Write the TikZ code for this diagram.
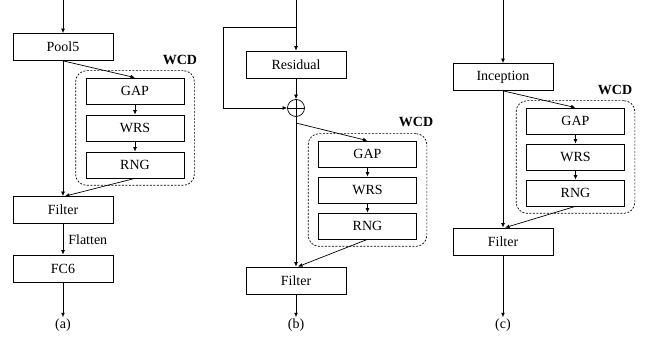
\documentclass[tikz,border=0pt]{standalone}
\usepackage{fontspec}
\setmainfont{Liberation Serif}
\usepackage{tikz}
\usetikzlibrary{arrows.meta, calc, positioning, fit}

\begin{document}
\begin{tikzpicture}[
    x=1pt, y=-1pt,
    >={Latex[length=4.5pt,width=3.8pt]},
    line width=0.7pt,
    every node/.style={font=\fontsize{14}{16}\selectfont},
    block/.style={rectangle, draw, minimum width=100pt, minimum height=27pt, inner sep=0pt},
    unit/.style={rectangle, draw, minimum width=98pt, minimum height=26pt, inner sep=0pt},
    wcdbox/.style={rectangle, draw, dashed, dash pattern=on 2pt off 1.5pt, rounded corners=11pt, inner xsep=10pt, inner ysep=7pt},
    tag/.style={font=\fontsize{14}{16}\selectfont\bfseries},
    sum/.style={circle, draw, minimum size=17pt, inner sep=0pt},
    caption/.style={inner sep=1pt}
]
\useasboundingbox (0,0) rectangle (649,339);

% (a) Pool5 branch
\coordinate (in_a) at (63,0);
\node[block] (pool5) at (63,47) {Pool5};
\node[unit] (gap_a) at (135,91) {GAP};
\node[unit] (wrs_a) at (135,128) {WRS};
\node[unit] (rng_a) at (135,165) {RNG};
\node[wcdbox, fit=(gap_a) (rng_a)] (wcd_a) {};
\node[tag] (tag_a) at (180,60) {WCD};
\node[block] (filter_a) at (63,210) {Filter};
\node[block] (fc6) at (63,268.5) {FC6};
\node[caption] (cap_a) at (63,325) {(a)};

\draw[->] (in_a) -- (pool5);
\draw[->] (pool5.south) -- (gap_a.north);
\draw[->] (gap_a) -- (wrs_a);
\draw[->] (wrs_a) -- (rng_a);
\draw[->] (pool5) -- (filter_a);
\draw[->] (rng_a.south) -- ($(filter_a.north)+(2,0)$);
\draw[->] (filter_a) -- node[right, inner sep=5pt] {Flatten} (fc6);
\draw[->] (fc6) -- (cap_a);

% (b) Residual branch
\coordinate (in_b) at (296,0);
\coordinate (split_b) at (296,27);
\coordinate (corner_b) at (223,27);
\node[block] (residual) at (296,64.5) {Residual};
\node[sum] (sum_b) at (296,108) {};
\draw (sum_b.north) -- (sum_b.south) (sum_b.west) -- (sum_b.east);
\coordinate (tap_b) at (296,123);
\node[unit] (gap_b) at (367.5,154) {GAP};
\node[unit] (wrs_b) at (367.5,190) {WRS};
\node[unit] (rng_b) at (367.5,226) {RNG};
\node[wcdbox, fit=(gap_b) (rng_b)] (wcd_b) {};
\node[tag] (tag_b) at (416,122) {WCD};
\node[block] (filter_b) at (296,280.5) {Filter};
\node[caption] (cap_b) at (296,325) {(b)};

\draw[->] (in_b) -- (residual);
\draw[->] (split_b) -- (corner_b) |- (sum_b.west);
\draw[->] (residual) -- (sum_b);
\draw[->] (sum_b) -- (filter_b);
\draw[->] (tap_b) -- (gap_b.north);
\draw[->] (gap_b) -- (wrs_b);
\draw[->] (wrs_b) -- (rng_b);
\draw[->] (rng_b.south) -- ($(filter_b.north)+(2,0)$);
\draw[->] (filter_b) -- (cap_b);

% (c) Inception branch
\coordinate (in_c) at (503,0);
\node[block] (inception) at (503,77) {Inception};
\node[unit] (gap_c) at (575.5,121) {GAP};
\node[unit] (wrs_c) at (575.5,157) {WRS};
\node[unit] (rng_c) at (575.5,193) {RNG};
\node[wcdbox, fit=(gap_c) (rng_c)] (wcd_c) {};
\node[tag] (tag_c) at (615,90) {WCD};
\node[block] (filter_c) at (503,241.5) {Filter};
\node[caption] (cap_c) at (503,325) {(c)};

\draw[->] (in_c) -- (inception);
\draw[->] (inception.south) -- (gap_c.north);
\draw[->] (gap_c) -- (wrs_c);
\draw[->] (wrs_c) -- (rng_c);
\draw[->] (inception) -- (filter_c);
\draw[->] (rng_c.south) -- ($(filter_c.north)+(2,0)$);
\draw[->] (filter_c) -- (cap_c);

\end{tikzpicture}
\end{document}
